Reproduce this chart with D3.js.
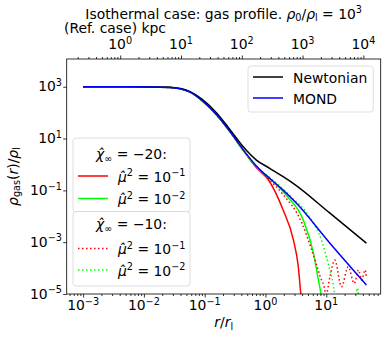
<!DOCTYPE html>
<html>
<head>
<meta charset="utf-8">
<script src="https://cdn.jsdelivr.net/npm/d3@7"></script>
<style>
	body { margin: 0; background: #fff; }
	text { font-family: "DejaVu Sans", sans-serif; fill: #000; }
</style>
</head>
<body>
<div id="chart"></div>
<script>
let width = 387,
	height = 339;

let frame = { left: 66.7, right: 380.7, top: 59, bottom: 294 };

// log10(r / r_l) , log10(rho_gas / rho_l)
let newtonian = [[-3, 3.0], [-2.2, 3.0], [-1.57, 2.98], [-1.24, 2.81], [-1.03, 2.49], [-0.80, 1.98], [-0.58, 1.33], [-0.37, 0.69], [-0.15, 0.17], [0.07, -0.15], [0.29, -0.47], [0.45, -0.72], [1.06, -1.88], [1.66, -3.04]];
let mond = [[-3, 3.0], [-2.2, 3.0], [-1.57, 2.97], [-1.24, 2.79], [-1.03, 2.44], [-0.80, 1.91], [-0.58, 1.26], [-0.37, 0.58], [-0.15, -0.06], [0.10, -0.60], [0.29, -0.99], [0.51, -1.50], [1.06, -3.04], [1.66, -4.65]];
let core = [[-3, 3.0], [-2.2, 3.0], [-1.57, 2.97], [-1.24, 2.79], [-1.03, 2.43], [-0.80, 1.90], [-0.58, 1.25], [-0.37, 0.56]];
let chi20mu1 = [[-0.15, -0.12], [0.05, -0.60], [0.29, -1.76], [0.46, -2.92], [0.54, -3.95], [0.58, -4.97], [0.62, -5.7]];
let chi20mu2 = [[-0.15, -0.08], [0.10, -0.61], [0.36, -1.24], [0.62, -2.14], [0.79, -3.43], [0.87, -4.46], [0.91, -4.97], [0.94, -5.6]];
let chi10mu1 = [[-0.15, -0.10], [0.07, -0.60], [0.27, -1.11], [0.60, -2.27], [0.76, -3.30], [0.90, -4.33], [0.98, -4.91], [0.99, -5.1], [1.06, -4.33], [1.14, -3.69], [1.25, -4.72], [1.36, -3.95], [1.46, -4.59], [1.53, -4.07], [1.58, -4.46], [1.64, -4.07], [1.66, -4.35]];
let chi10mu2 = [[-0.15, -0.08], [0.12, -0.60], [0.40, -1.20], [0.73, -2.05], [0.92, -2.92], [1.03, -3.82], [1.12, -4.72], [1.14, -5.04], [1.16, -5.6], [1.47, -5.6], [1.51, -4.77], [1.55, -5.6]];

let xTickExp = [-3, -2, -1, 0, 1];
let yTickExp = [-5, -3, -1, 1, 3];
let kpcTickExp = [0, 1, 2, 3, 4];
let kpcOffset = 2.39; // log10(kpc per r_l), reference case

let svg = d3.select('#chart').append('svg')
	.attr('width', width)
	.attr('height', height)

let x = d3.scaleLog()
	.domain([Math.pow(10, -3.27), Math.pow(10, 1.895)])
	.range([frame.left, frame.right]);

let xTop = d3.scaleLog()
	.domain(x.domain().map(function (d) { return d * Math.pow(10, kpcOffset) }))
	.range([frame.left, frame.right]);

let y = d3.scaleLog()
	.domain([1e-5, Math.pow(10, 4.07)])
	.range([frame.bottom, frame.top]);

function minorValues(scale) {
	let dom = scale.domain(), out = [];
	for (let e = Math.floor(Math.log10(dom[0])); e <= Math.ceil(Math.log10(dom[1])); e++) {
		for (let k = 2; k <= 9; k++) {
			let v = k * Math.pow(10, e);
			if (v >= dom[0] && v <= dom[1]) out.push(v);
		}
	}
	return out;
}

// superscript label like 10^-3
function powLabel(sel, e) {
	sel.append('tspan').text('10');
	sel.append('tspan').attr('font-size', '9.7px').attr('dy', -5.2)
		.text(e < 0 ? '\u2212' + (-e) : '' + e);
}

svg.append('defs').append('clipPath').attr('id', 'plotclip')
	.append('rect')
	.attr('x', frame.left).attr('y', frame.top)
	.attr('width', frame.right - frame.left).attr('height', frame.bottom - frame.top);

// axes
function styleAxis(g) {
	g.select('.domain').remove();
	g.selectAll('line').attr('stroke', '#000').attr('stroke-width', 0.8);
}

svg.append('g').attr('transform', 'translate(0,' + frame.bottom + ')')
	.call(d3.axisBottom(x).tickValues(xTickExp.map(function (e) { return Math.pow(10, e) })).tickSize(3.5).tickFormat(''))
	.call(styleAxis);
svg.append('g').attr('transform', 'translate(0,' + frame.bottom + ')')
	.call(d3.axisBottom(x).tickValues(minorValues(x)).tickSize(2).tickFormat(''))
	.call(styleAxis);

svg.append('g').attr('transform', 'translate(0,' + frame.top + ')')
	.call(d3.axisTop(xTop).tickValues(kpcTickExp.map(function (e) { return Math.pow(10, e) })).tickSize(3.5).tickFormat(''))
	.call(styleAxis);
svg.append('g').attr('transform', 'translate(0,' + frame.top + ')')
	.call(d3.axisTop(xTop).tickValues(minorValues(xTop)).tickSize(2).tickFormat(''))
	.call(styleAxis);

svg.append('g').attr('transform', 'translate(' + frame.left + ',0)')
	.call(d3.axisLeft(y).tickValues(yTickExp.map(function (e) { return Math.pow(10, e) })).tickSize(3.5).tickFormat(''))
	.call(styleAxis);

// tick labels
svg.selectAll('.xlab').data(xTickExp).enter().append('text').classed('xlab', true)
	.attr('x', function (e) { return x(Math.pow(10, e)) })
	.attr('y', 310)
	.attr('text-anchor', 'middle')
	.attr('font-size', '13.9px')
	.each(function (e) { powLabel(d3.select(this), e) });

svg.selectAll('.tlab').data(kpcTickExp).enter().append('text').classed('tlab', true)
	.attr('x', function (e) { return xTop(Math.pow(10, e)) })
	.attr('y', 49.3)
	.attr('text-anchor', 'middle')
	.attr('font-size', '13.9px')
	.each(function (e) { powLabel(d3.select(this), e) });

svg.selectAll('.ylab').data(yTickExp).enter().append('text').classed('ylab', true)
	.attr('x', 62)
	.attr('y', function (e) { return y(Math.pow(10, e)) + 4.5 })
	.attr('text-anchor', 'end')
	.attr('font-size', '13.9px')
	.each(function (e) { powLabel(d3.select(this), e) });

// curves
let line = d3.line()
	.x(function (d) { return x(Math.pow(10, d[0])) })
	.y(function (d) { return y(Math.pow(10, d[1])) })
	.curve(d3.curveMonotoneX);

let series = [
	{ data: core.concat(chi20mu1), color: '#ff0000', dash: null },
	{ data: core.concat(chi20mu2), color: '#00ff00', dash: null },
	{ data: core.concat(chi10mu1), color: '#ff0000', dash: '1.5,2.5' },
	{ data: core.concat(chi10mu2), color: '#00ff00', dash: '1.5,2.5' },
	{ data: newtonian, color: '#000000', dash: null },
	{ data: mond, color: '#0000ff', dash: null }
];

svg.append('g').attr('clip-path', 'url(#plotclip)')
	.selectAll('path').data(series).enter().append('path')
	.attr('d', function (d) { return line(d.data) })
	.attr('fill', 'none')
	.attr('stroke', function (d) { return d.color })
	.attr('stroke-width', 1.5)
	.attr('stroke-dasharray', function (d) { return d.dash });

// frame
svg.append('rect')
	.attr('x', frame.left).attr('y', frame.top)
	.attr('width', frame.right - frame.left).attr('height', frame.bottom - frame.top)
	.attr('fill', 'none').attr('stroke', '#000').attr('stroke-width', 0.8);

// title and axis labels
let title = svg.append('text').attr('x', (frame.left + frame.right) / 2).attr('y', 18.5)
	.attr('text-anchor', 'middle').attr('font-size', '13.9px');
title.append('tspan').text('Isothermal case: gas profile. ');
title.append('tspan').attr('font-style', 'italic').text('\u03c1');
title.append('tspan').attr('font-size', '9.7px').attr('dy', 2.5).text('0');
title.append('tspan').attr('dy', -2.5).text('/');
title.append('tspan').attr('font-style', 'italic').text('\u03c1');
title.append('tspan').attr('font-size', '9.7px').attr('dy', 2.5).text('l');
title.append('tspan').attr('dy', -2.5).text(' = 10');
title.append('tspan').attr('font-size', '9.7px').attr('dy', -5.2).text('3');

svg.append('text').attr('x', 64).attr('y', 33).attr('font-size', '13.9px').text('(Ref. case) kpc');

let xl = svg.append('text').attr('x', (frame.left + frame.right) / 2).attr('y', 327)
	.attr('text-anchor', 'middle').attr('font-size', '13.9px');
xl.append('tspan').attr('font-style', 'italic').text('r');
xl.append('tspan').text('/');
xl.append('tspan').attr('font-style', 'italic').text('r');
xl.append('tspan').attr('font-size', '9.7px').attr('dy', 2.5).text('l');

let yl = svg.append('text')
	.attr('transform', 'translate(17.5,' + ((frame.top + frame.bottom) / 2) + ') rotate(-90)')
	.attr('text-anchor', 'middle').attr('font-size', '13.9px');
yl.append('tspan').attr('font-style', 'italic').text('\u03c1');
yl.append('tspan').attr('font-size', '9.7px').attr('dy', 2.5).text('gas');
yl.append('tspan').attr('dy', -2.5).text('(');
yl.append('tspan').attr('font-style', 'italic').text('r');
yl.append('tspan').text(')/');
yl.append('tspan').attr('font-style', 'italic').text('\u03c1');
yl.append('tspan').attr('font-size', '9.7px').attr('dy', 2.5).text('l');

// legends
function legendBox(x0, y0, w, h) {
	svg.append('rect').attr('x', x0).attr('y', y0).attr('width', w).attr('height', h)
		.attr('rx', 3).attr('fill', '#fff').attr('fill-opacity', 0.8)
		.attr('stroke', '#d6d6d6').attr('stroke-width', 0.8);
}
function legendLine(x0, yy, color, dash) {
	svg.append('line').attr('x1', x0).attr('x2', x0 + 30).attr('y1', yy).attr('y2', yy)
		.attr('stroke', color).attr('stroke-width', 1.5).attr('stroke-dasharray', dash);
}
function chiTitle(cx, yy, val) {
	let t = svg.append('text').attr('x', cx).attr('y', yy).attr('text-anchor', 'middle').attr('font-size', '13.9px');
	t.append('tspan').attr('font-style', 'italic').text('\u03c7\u0302');
	t.append('tspan').attr('font-size', '9.7px').attr('dy', 2.5).text('\u221e');
	t.append('tspan').attr('dy', -2.5).text(' = \u2212' + val + ':');
}
function muLabel(x0, yy, e) {
	let t = svg.append('text').attr('x', x0).attr('y', yy).attr('font-size', '13.9px');
	t.append('tspan').attr('font-style', 'italic').text('\u03bc\u0302');
	t.append('tspan').attr('font-size', '9.7px').attr('dy', -5.2).text('2');
	t.append('tspan').attr('dy', 5.2).text(' = 10');
	t.append('tspan').attr('font-size', '9.7px').attr('dy', -5.2).text('\u2212' + e);
}

legendBox(248, 66, 125.3, 46);
legendLine(253, 77, '#000000', null);
legendLine(253, 98, '#0000ff', null);
svg.append('text').attr('x', 293).attr('y', 82.5).attr('font-size', '13.9px').text('Newtonian');
svg.append('text').attr('x', 293).attr('y', 103.5).attr('font-size', '13.9px').text('MOND');

legendBox(73, 138, 117, 74);
chiTitle(131.5, 159, 20);
legendLine(78, 176, '#ff0000', null);
legendLine(78, 198.5, '#00ff00', null);
muLabel(118, 181.5, 1);
muLabel(118, 204, 2);

legendBox(73, 211.5, 117, 74.5);
chiTitle(131.5, 229, 10);
legendLine(78, 248.5, '#ff0000', '1.5,2.5');
legendLine(78, 270, '#00ff00', '1.5,2.5');
muLabel(118, 254, 1);
muLabel(118, 275.5, 2);
</script>
</body>
</html>
